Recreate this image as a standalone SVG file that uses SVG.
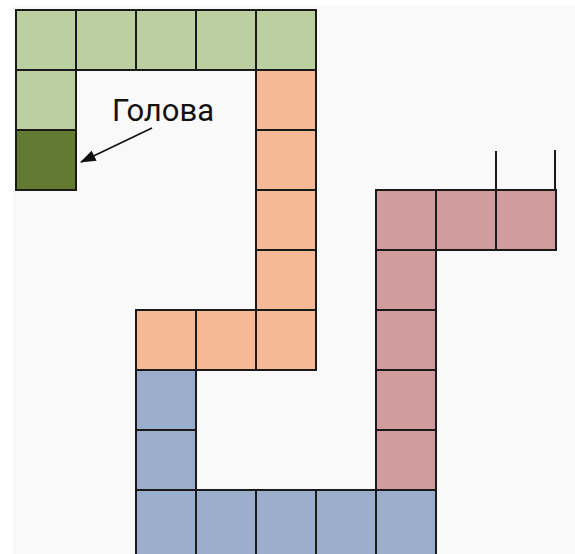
<svg xmlns="http://www.w3.org/2000/svg" width="575" height="554" viewBox="0 0 575 554">
<defs>
<style>
.c{stroke:#1a1a1a;stroke-width:2}
.g{fill:#bccfa1}
.h{fill:#637b30}
.o{fill:#f5b995}
.b{fill:#9aaecb}
.r{fill:#d09b9c}
.t{font-family:Roboto,"Liberation Sans",sans-serif;font-size:31px;fill:#111}
</style>
<marker id="ah" viewBox="0 0 14 10" refX="13" refY="5" markerWidth="10" markerHeight="7" orient="auto" markerUnits="strokeWidth">
<path d="M0,0 L14,5 L0,10 z" fill="#111"/>
</marker>
</defs>
<rect x="0" y="0" width="575" height="554" fill="#ffffff"/>
<rect x="13" y="5" width="562" height="549" fill="#f9f9f9"/>
<g id="green">
<rect class="c g" x="16" y="10" width="60" height="60"/>
<rect class="c g" x="76" y="10" width="60" height="60"/>
<rect class="c g" x="136" y="10" width="60" height="60"/>
<rect class="c g" x="196" y="10" width="60" height="60"/>
<rect class="c g" x="256" y="10" width="60" height="60"/>
<rect class="c g" x="16" y="70" width="60" height="60"/>
</g>
<g id="head">
<rect class="c h" x="16" y="130" width="60" height="60"/>
</g>
<g id="orange">
<rect class="c o" x="256" y="70" width="60" height="60"/>
<rect class="c o" x="256" y="130" width="60" height="60"/>
<rect class="c o" x="256" y="190" width="60" height="60"/>
<rect class="c o" x="256" y="250" width="60" height="60"/>
<rect class="c o" x="256" y="310" width="60" height="60"/>
<rect class="c o" x="196" y="310" width="60" height="60"/>
<rect class="c o" x="136" y="310" width="60" height="60"/>
</g>
<g id="blue">
<rect class="c b" x="136" y="370" width="60" height="60"/>
<rect class="c b" x="136" y="430" width="60" height="60"/>
<rect class="c b" x="136" y="490" width="60" height="66"/>
<rect class="c b" x="196" y="490" width="60" height="66"/>
<rect class="c b" x="256" y="490" width="60" height="66"/>
<rect class="c b" x="316" y="490" width="60" height="66"/>
<rect class="c b" x="376" y="490" width="60" height="66"/>
</g>
<g id="red">
<rect class="c r" x="376" y="430" width="60" height="60"/>
<rect class="c r" x="376" y="370" width="60" height="60"/>
<rect class="c r" x="376" y="310" width="60" height="60"/>
<rect class="c r" x="376" y="250" width="60" height="60"/>
<rect class="c r" x="376" y="190" width="60" height="60"/>
<rect class="c r" x="436" y="190" width="60" height="60"/>
<rect class="c r" x="496" y="190" width="60" height="60"/>
</g>
<g id="connectors">
<line class="c" x1="496" y1="151" x2="496" y2="190"/>
<line class="c" x1="555" y1="150" x2="555" y2="190"/>
<line x1="152" y1="128" x2="81" y2="162" stroke="#111" stroke-width="1.6" marker-end="url(#ah)"/>
</g>
<g id="label">
<text class="t" x="112" y="121">Голова</text>
</g>
</svg>
